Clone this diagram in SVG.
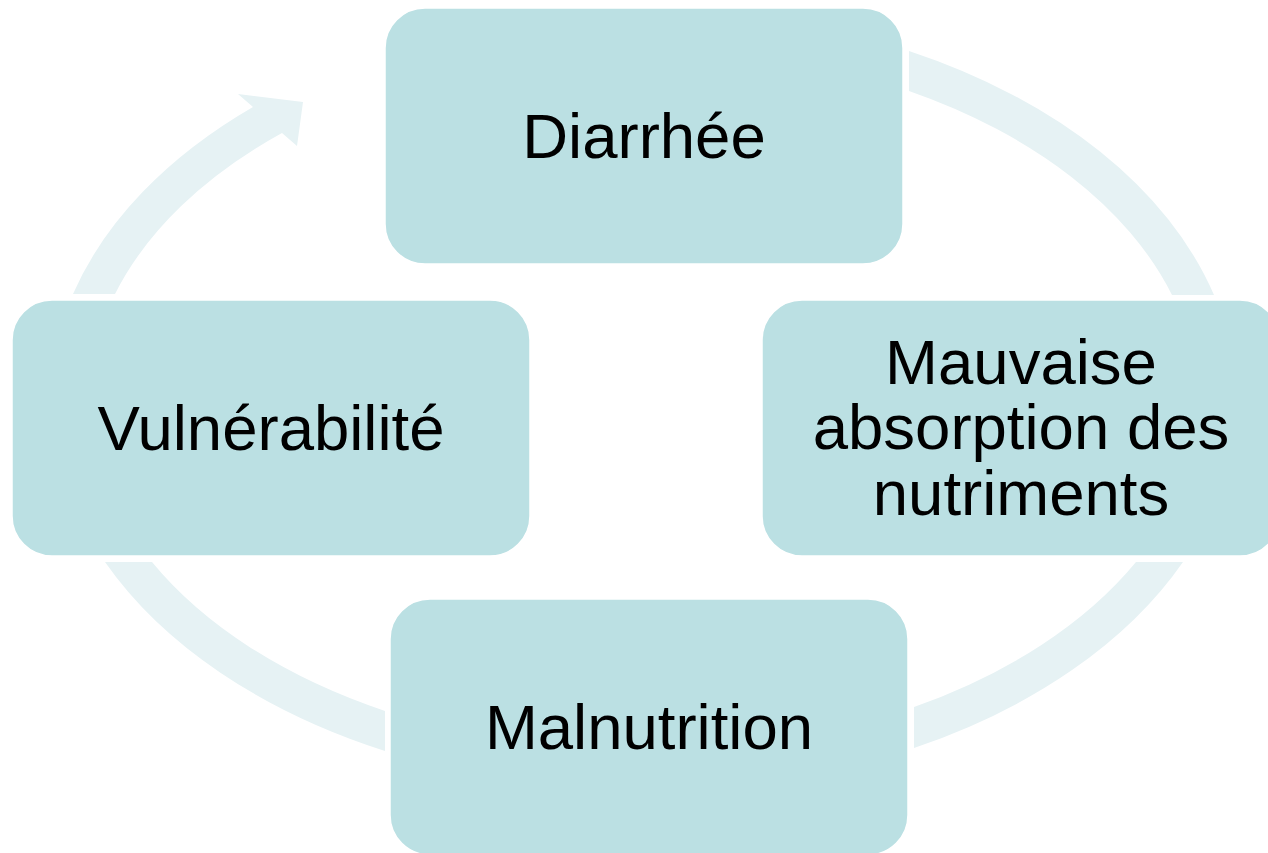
<svg xmlns="http://www.w3.org/2000/svg" width="1268" height="853" viewBox="0 0 1268 853">
<style>
.arc{fill:#E6F2F4;stroke:none}
.box{fill:#BBE0E3;stroke:#FFFFFF;stroke-width:1.5}
.lbl{font-family:"Liberation Sans",Arial,sans-serif;font-size:63.5px;fill:#000000;text-anchor:middle}
</style>
<rect width="1268" height="853" fill="#FFFFFF"/>
<g id="connectors">
<path class="arc" d="M909,51 A591,394 0 0 1 1214,295 L1172,295 A553,356 0 0 0 909,91 Z"/>
<path class="arc" d="M1183,562 A591,394 0 0 1 914,748 L914,707 A553,356 0 0 0 1136,562 Z"/>
<path class="arc" d="M385,751 A591,394 0 0 1 105,562 L152,562 A553,356 0 0 0 385,711 Z"/>
<path class="arc" d="M73,294 A591,394 0 0 1 253,107 L238,94 L303,102 L297,146 L282,133 A553,356 0 0 0 115,294 Z"/>
</g>
<g id="node-diarrhee">
<rect class="box" x="385" y="8" width="518" height="256" rx="40" ry="40"/>
<text class="lbl" x="644" y="158">Diarrhée</text>
</g>
<g id="node-mauvaise">
<rect class="box" x="762" y="300" width="518" height="256" rx="40" ry="40"/>
<text class="lbl" x="1021" y="384">Mauvaise</text>
<text class="lbl" x="1021" y="449">absorption des</text>
<text class="lbl" x="1021" y="515">nutriments</text>
</g>
<g id="node-malnutrition">
<rect class="box" x="390" y="599" width="518" height="256" rx="40" ry="40"/>
<text class="lbl" x="649" y="749">Malnutrition</text>
</g>
<g id="node-vulnerabilite">
<rect class="box" x="12" y="300" width="518" height="256" rx="40" ry="40"/>
<text class="lbl" x="271" y="450">Vulnérabilité</text>
</g>
</svg>
